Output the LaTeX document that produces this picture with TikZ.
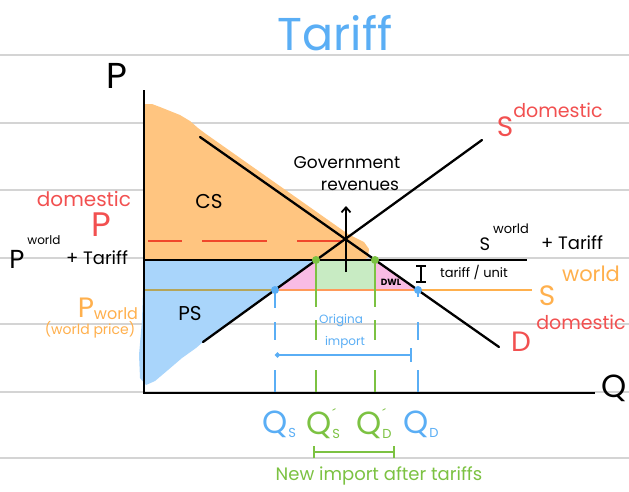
\documentclass[tikz,border=0pt]{standalone}
\usepackage{fontspec}
\setmainfont{Poppins}
\usetikzlibrary{arrows.meta}
\definecolor{blueT}{HTML}{5AAEF5}
\definecolor{redL}{HTML}{F25050}
\definecolor{redD}{HTML}{F0472B}
\definecolor{orangeL}{HTML}{FFB04D}
\definecolor{greenL}{HTML}{7CC242}
\definecolor{csfill}{HTML}{FFC580}
\definecolor{psfill}{HTML}{A9D5FB}
\definecolor{grfill}{HTML}{C8EBC3}
\definecolor{pkfill}{HTML}{F9BCE4}
\definecolor{gridc}{HTML}{D4D4D4}
\definecolor{olive}{HTML}{B5A55A}
\definecolor{midor}{HTML}{FF9A5A}
\newcommand\myfs[1]{\fontsize{#1}{#1}\selectfont}
\newcommand\qsub[1]{\kern1pt\raisebox{-4pt}{\myfs{13}#1}}
\newcommand\qprime{\rlap{\kern1pt\raisebox{15pt}{\myfs{14}´}}}
\begin{document}
\begin{tikzpicture}[x=1pt,y=-1pt,
  txt/.style={inner sep=0pt, anchor=center},
  gridline/.style={gridc, line width=1.5pt},
  curve/.style={black, line width=2.3pt, line cap=round},
  vdash/.style={line width=2.3pt},
  dot/.style={circle, inner sep=0pt, minimum size=8pt}]
\path[use as bounding box, fill=white] (0,0) rectangle (629,491);
% notebook lines
\foreach \yy in {55,123,190,258,324,392,458}
  \draw[gridline] (0,\yy) -- (629,\yy);
% fills
\fill[csfill] (144,104) -- (152,104) -- (160,107) -- (170,111) -- (180,115) -- (190,121) -- (198,128)
  -- (206,134) -- (348,234) -- (356,238) -- (364,242) -- (369,249) -- (368,257) -- (362,261) -- (144,261) -- cycle;
\fill[psfill] (144,261) -- (316,261) -- (203,342) -- (196,348) -- (182,358) -- (168,370) -- (155,381)
  -- (146,385) -- (140,378) -- (139,355) -- (142,320) -- cycle;
\fill[grfill] (316,260) rectangle (375,290);
\fill[pkfill] (275,290) -- (316,260) -- (316,290) -- cycle;
\fill[pkfill] (375,260) -- (418,290) -- (375,290) -- cycle;
% coordinates
\coordinate (O) at (144,393);
\coordinate (Ytop) at (144,90);
\coordinate (Xend) at (595,393);
\coordinate (Dtop) at (200,137);
\coordinate (Dbot) at (499,347);
\coordinate (Sbot) at (203,342);
\coordinate (Stop) at (482,140);
\coordinate (E) at (346,239);
\coordinate (A) at (316,260);
\coordinate (B) at (375,260);
\coordinate (C) at (275,290);
\coordinate (F) at (418,290);
\coordinate (PTl) at (144,260);
\coordinate (PTr) at (527,260);
\coordinate (PWl) at (144,290);
\coordinate (PWr) at (532,290);
\coordinate (PDl) at (148,241);
\coordinate (PDr) at (344,241);
% world price line
\draw[orangeL, line width=2.6pt] (F) -- (PWr);
\draw[midor, line width=2.6pt] (C) -- (F);
\draw[olive, line width=2.6pt] (PWl) -- (C);
% domestic price dashed
\draw[redD, line width=2.2pt, dash pattern=on 34pt off 20pt on 65pt off 30pt on 50pt] (PDl) -- (PDr);
% dashed verticals
\draw[blueT, vdash, dash pattern=on 18pt off 14pt on 18pt off 30pt on 22pt] (C) -- (275,393);
\draw[blueT, vdash, dash pattern=on 7pt off 25pt on 18pt off 30pt on 22pt] (F) -- (418,393);
\draw[greenL, vdash, dash pattern=on 47pt off 13pt on 20pt off 30pt on 22pt] (A) -- (316,393);
\draw[greenL, vdash, dash pattern=on 47pt off 13pt on 20pt off 30pt on 22pt] (B) -- (375,393);
% axes
\draw[black, line width=2.6pt] (Ytop) -- (O) -- (Xend);
% curves
\draw[curve] (Dtop) -- (Dbot);
\draw[curve] (Sbot) -- (Stop);
\draw[black, line width=2.6pt] (PTl) -- (PTr);
% government arrow
\coordinate (Gb) at (346,272);
\coordinate (Gt) at (346,206);
\draw[black, line width=1.8pt, -{Straight Barb[length=5pt,width=9pt]}] (Gb) -- (Gt);
% dots
\node[dot, fill=greenL] (dA) at (A) {};
\node[dot, fill=greenL] (dB) at (B) {};
\node[dot, fill=blueT] (dC) at (C) {};
\node[dot, fill=blueT] (dF) at (F) {};
% original import arrow
\coordinate (Ia) at (275,355);
\coordinate (Ib) at (412,355);
\draw[blueT, line width=2pt, {Circle[length=5pt]}-{Bar[width=14pt]}] (Ia) -- (Ib);
% new import bracket
\coordinate (Na) at (313,452);
\coordinate (Nb) at (395,452);
\draw[greenL, line width=2.2pt, {Bar[width=12pt]}-{Bar[width=12pt]}] (Na) -- (Nb);
% tariff per unit bracket
\coordinate (Ta) at (421,266);
\coordinate (Tb) at (421,282);
\draw[black, line width=2pt] (416,266) -- (426,266) (Ta) -- (Tb) (416,282) -- (426,282);
% texts
\node[txt, blueT, font=\myfs{46}] (title) at (335,33) {Tariff};
\node[txt, font=\myfs{36}] (plab) at (117,76) {P};
\node[txt, font=\myfs{32}] (qlab) at (614,388) {Q};
\node[txt, redL, font=\myfs{20}] (domL) at (84,199) {domestic};
\node[txt, redL, font=\myfs{34}] (pdomL) at (101,225) {P};
\node[txt, font=\myfs{26}] (pwt) at (17,259) {P};
\node[txt, font=\myfs{12}] (pwtsup) at (44,240) {world};
\node[txt, font=\myfs{18}] (pwtplus) at (97,258) {+ Tariff};
\node[txt, orangeL, font=\myfs{28}] (pw) at (86,308) {P};
\node[txt, orangeL, font=\myfs{16}] (pwsub) at (116,314) {world};
\node[txt, orangeL, font=\myfs{14}] (pwpar) at (90,330) {(world price)};
\node[txt, redL, font=\myfs{28}] (Sdom) at (505,127) {S};
\node[txt, redL, font=\myfs{19}] (Sdomsup) at (558,110) {domestic};
\node[txt, font=\myfs{18}] (Swt) at (485,244) {S};
\node[txt, font=\myfs{13}] (Swtsup) at (511,229) {world};
\node[txt, font=\myfs{18}] (Swtplus) at (572,243) {+ Tariff};
\node[txt, font=\myfs{13}] (tpu) at (474,272) {tariff / unit};
\node[txt, orangeL, font=\myfs{28}] (Sw) at (547,296) {S};
\node[txt, orangeL, font=\myfs{21}] (Swsup) at (591,274) {world};
\node[txt, redL, font=\myfs{28}] (Dd) at (521,342) {D};
\node[txt, redL, font=\myfs{19}] (Ddsup) at (581,322) {domestic};
\node[txt, font=\myfs{20}] (cs) at (209,202) {CS};
\node[txt, font=\myfs{20}] (ps) at (190,314) {PS};
\node[txt, font=\bfseries\myfs{9}] (dwl) at (391,282) {DWL};
\node[txt, font=\myfs{17}] (gov) at (347,163) {Government};
\node[txt, font=\myfs{17}] (rev) at (360,186) {revenues};
\node[txt, blueT, font=\myfs{12}] (orig) at (341,321) {Origina};
\node[txt, blueT, font=\myfs{12}] (imp) at (345,342) {import};
\node[txt, blueT, font=\myfs{32}, anchor=west] (qs) at (262,424) {Q\qsub{S}};
\node[txt, greenL, font=\myfs{32}, anchor=west] (qs2) at (306,424) {Q\qprime\qsub{S}};
\node[txt, greenL, font=\myfs{32}, anchor=west] (qd2) at (356,424) {Q\qprime\qsub{D}};
\node[txt, blueT, font=\myfs{32}, anchor=west] (qd) at (403,424) {Q\qsub{D}};
\node[txt, greenL, font=\myfs{18}] (newimp) at (379,476) {New import after tariffs};
\end{tikzpicture}
\end{document}
